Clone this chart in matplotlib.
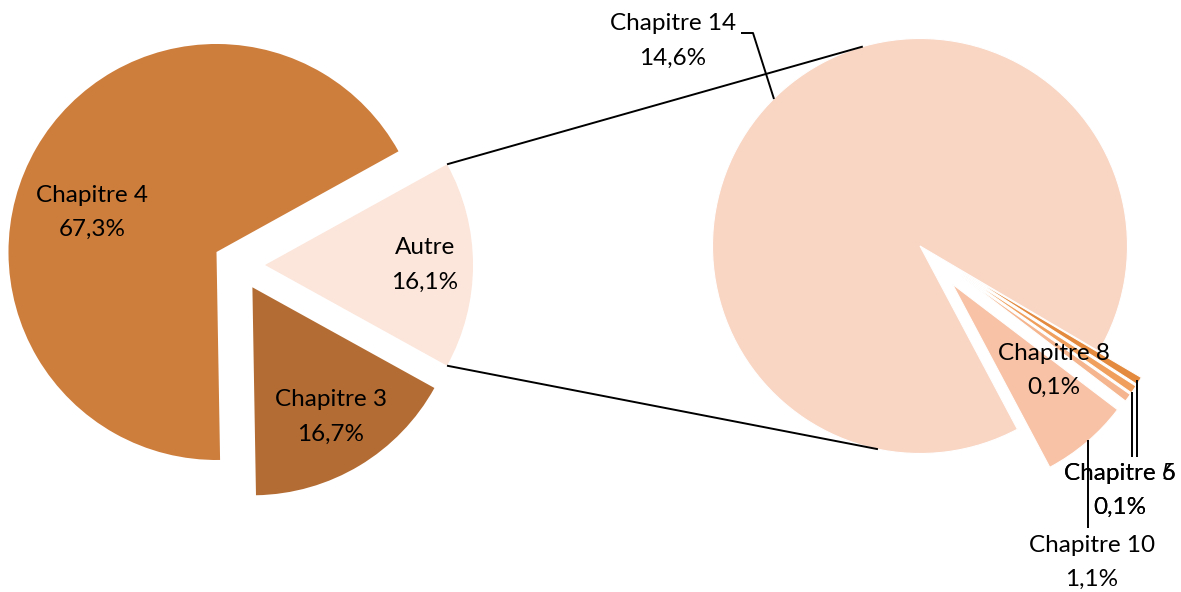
import matplotlib
matplotlib.use("Agg")
import matplotlib.pyplot as plt
import numpy as np

# Main pie: share of each chapter (%)
main_labels = ["Autre", "Chapitre 4", "Chapitre 3"]
main_values = [16.1, 67.3, 16.7]
main_colors = ["#FCE5DA", "#CD7D3C", "#B36C33"]

# Breakdown of "Autre" (%)
sub_labels = ["Chapitre 10", "Chapitre 5", "Chapitre 6", "Chapitre 8", "Chapitre 14"]
sub_values = [1.1, 0.1, 0.1, 0.1, 14.6]
sub_colors = ["#F8C2A6", "#F5B58E", "#F0A05C", "#E38A3F", "#F9D5C4"]


def pct(v):
    return f"{v:.1f}".replace(".", ",") + "%"


W, H = 1181, 592
fig = plt.figure(figsize=(W / 100, H / 100), dpi=100)
ax = fig.add_axes([0, 0, 1, 1])

FONT = "Lato"
FS = 17.5

# ---- left pie (explode is in data units = pixels here)
c1 = (239, H - 265)
r1 = 208
start1 = -main_values[0] / sum(main_values) * 360 / 2
w1, _ = ax.pie(main_values, colors=main_colors, startangle=start1, counterclock=True,
               radius=r1, center=c1, explode=[26] * 3,
               wedgeprops=dict(linewidth=0, edgecolor="white"), frame=True)

# ---- right pie
c2 = (920, H - 246)
r2 = 207.5
w2, _ = ax.pie(sub_values, colors=sub_colors, startangle=-62, counterclock=True,
               radius=r2, center=c2, explode=[50, 50, 50, 50, 0],
               wedgeprops=dict(linewidth=0.8, edgecolor="white"), frame=True)
ax.set_xlim(0, W)
ax.set_ylim(0, H)
ax.set_aspect("equal")
ax.axis("off")

# ---- connector lines from "Autre" wedge to the second pie
autre = w1[0]
acx, acy = autre.center
ar = autre.r
for ang, tang in [(autre.theta2, 106.0), (autre.theta1, -101.7)]:
    x0 = acx + ar * np.cos(np.radians(ang))
    y0 = acy + ar * np.sin(np.radians(ang))
    x1 = c2[0] + r2 * np.cos(np.radians(tang))
    y1 = c2[1] + r2 * np.sin(np.radians(tang))
    ax.plot([x0, x1], [y0, y1], color="black", lw=1.4, solid_capstyle="butt")


def label(x, y, name, value):
    # y given in image rows (top = 0)
    ax.text(x, H - (y - 17), name, ha="center", va="center", fontsize=FS, family=FONT)
    ax.text(x, H - (y + 17), pct(value), ha="center", va="center", fontsize=FS, family=FONT)


label(92, 212, main_labels[1], main_values[1])
label(425, 265, main_labels[0], main_values[0])
label(331, 417, main_labels[2], main_values[2])

label(673, 41, sub_labels[4], sub_values[4])
label(1054, 370, sub_labels[3], sub_values[3])
label(1120, 490, sub_labels[1], sub_values[1])
label(1120, 490, sub_labels[2], sub_values[2])
label(1092, 562, sub_labels[0], sub_values[0])


# ---- leader lines
def leader(pts):
    xs = [p[0] for p in pts]
    ys = [H - p[1] for p in pts]
    ax.plot(xs, ys, color="black", lw=1.4, solid_capstyle="butt")


leader([(741, 33), (753, 33), (774, 99)])
leader([(1131.5, 392), (1131.5, 457)])
leader([(1136.5, 380), (1136.5, 457)])
leader([(1088, 440), (1088, 528)])

fig.savefig("out.png", dpi=100, facecolor="white")
